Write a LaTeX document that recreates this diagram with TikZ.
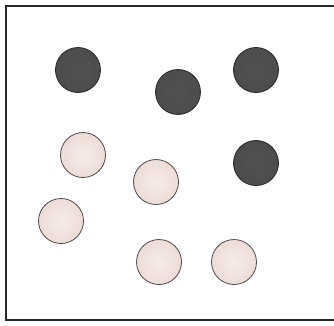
\documentclass[tikz,border=0pt]{standalone}
\usepackage{xcolor}
\usepackage{tikz}
\definecolor{darkball}{RGB}{76,76,76}
\definecolor{ballrim}{RGB}{40,40,40}
\definecolor{paleball}{RGB}{245,228,222}
\definecolor{palerim}{RGB}{80,75,75}
\definecolor{framegray}{RGB}{40,40,40}

\begin{document}
\begin{tikzpicture}[x=1pt,y=-1pt,
  darkdot/.style={circle,minimum size=45pt,inner sep=0pt,draw=ballrim,line width=0.8pt,
    inner color=darkball!90!gray,outer color=darkball},
  palldot/.style={circle,minimum size=45pt,inner sep=0pt,draw=palerim,line width=0.8pt,
    inner color=paleball!70!white,outer color=paleball!92!gray}]
  \useasboundingbox (0,0) rectangle (334,325);
  \fill[white] (0,0) rectangle (334,325);
  \draw[framegray,line width=2.5pt] (340,6)--(6,6)--(6,320)--(340,320);
  \node[darkdot] (d1) at (78,70) {};
  \node[darkdot] (d2) at (178,92) {};
  \node[darkdot] (d3) at (256,70) {};
  \node[darkdot] (d4) at (256,163) {};
  \node[palldot] (p1) at (83,155) {};
  \node[palldot] (p2) at (156,182) {};
  \node[palldot] (p3) at (61,221) {};
  \node[palldot] (p4) at (159,262) {};
  \node[palldot] (p5) at (234,262) {};
\end{tikzpicture}
\end{document}
